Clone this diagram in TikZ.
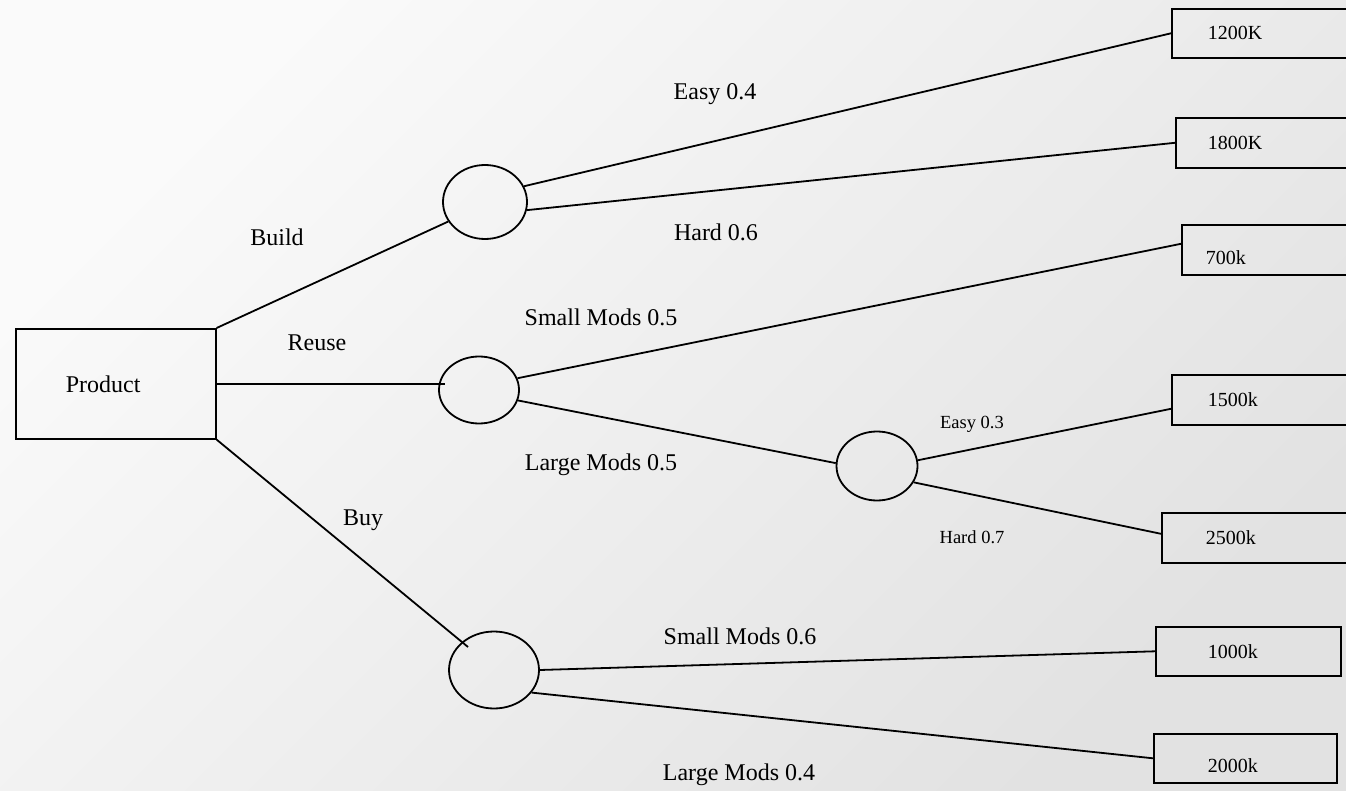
\documentclass[tikz,border=0pt]{standalone}
\usepackage{fontspec}
\setmainfont{Liberation Serif}
\usetikzlibrary{shapes.geometric,calc}
\definecolor{bgA}{HTML}{FAFAFA}
\definecolor{bgB}{HTML}{E2E2E2}
\tikzset{
  chance/.style={ellipse, draw, line width=1.8pt, inner sep=0pt},
  outcome/.style={draw, line width=1.6pt, anchor=north west, align=left,
    inner ysep=0pt, font=\fontsize{20}{22}\selectfont},
  branch/.style={line width=1.8pt},
  lbl/.style={inner sep=0pt, font=\fontsize{24}{26}\selectfont},
  slbl/.style={inner sep=0pt, font=\fontsize{18.5}{20}\selectfont},
}
% lower a box label without changing the box it sits in
\newcommand{\sunk}[2]{\raisebox{-#1}[\height][\depth]{#2}}
\begin{document}
\begin{tikzpicture}[x=1pt,y=-1pt]
\useasboundingbox (0,0) rectangle (1346,791);
\clip (0,0) rectangle (1346,791);
\shade[top color=bgA, bottom color=bgB, shading angle=45] (0,0) rectangle (1346,791);

% decision node
\node[draw, line width=1.6pt, anchor=north west, minimum height=110pt,
      inner xsep=50pt, inner ysep=0pt, text width=100pt, align=left,
      font=\fontsize{24}{26}\selectfont] (product) at (15,328) {Product};

% chance nodes
\node[chance, minimum width=84pt, minimum height=74pt] (c1) at (485,202) {};
\node[chance, minimum width=80pt, minimum height=67pt] (c2) at (479,390) {};
\node[chance, minimum width=81pt, minimum height=69pt] (c3) at (877,466) {};
\node[chance, minimum width=90pt, minimum height=77pt] (c4) at (494,670) {};

% outcomes
\node[outcome, minimum height=49pt, inner xsep=36pt, text width=118pt] (b1200) at (1171,8) {1200K};
\node[outcome, minimum height=50pt, inner xsep=32pt, text width=126pt] (b1800) at (1175,117) {1800K};
\node[outcome, minimum height=50pt, inner xsep=24pt, text width=142pt] (b700) at (1181,224) {\sunk{8pt}{700k}};
\node[outcome, minimum height=50pt, inner xsep=36pt, text width=118pt] (b1500) at (1171,374) {1500k};
\node[outcome, minimum height=50pt, inner xsep=44pt, text width=102pt] (b2500) at (1161,512) {2500k};
\node[outcome, minimum height=49pt, inner xsep=52pt, text width=81pt] (b1000) at (1155,626) {1000k};
\node[outcome, minimum height=49pt, inner xsep=54pt, text width=75pt] (b2000) at (1153,733) {\sunk{7pt}{2000k}};

% branches
\draw[branch] (product.north east) -- (c1.208);
\draw[branch] (product.east) -- ($(product.east -| c2.west)+(7,0)$);
\draw[branch] (product.south east) -- ($(c4.center)+(-26,-23)$);

\draw[branch] (c1.22) -- (b1200.west);
\draw[branch] (c1.-11) -- (b1800.west);

\draw[branch] (c2.17) -- ($(b700.west)+(0,-6)$);
\draw[branch] (c2.-15) -- (c3.176);

\draw[branch] (c3.8) -- ($(b1500.west)+(0,9)$);
\draw[branch] (c3.-24) -- ($(b2500.west)+(0,-4)$);

\draw[branch] (c4.east) -- (b1000.west);
\draw[branch] (c4.-31) -- (b2000.west);

% branch labels
\node[lbl] (lbuild) at (277,237) {Build};
\node[lbl] (lreuse) at (317,343) {Reuse};
\node[lbl] (lbuy) at (363,520) {Buy};
\node[lbl] (leasy1) at (715,94) {Easy 0.4};
\node[lbl] (lhard1) at (716,232) {Hard 0.6};
\node[lbl] (lsmall1) at (601,317) {Small Mods 0.5};
\node[lbl] (llarge1) at (601,465) {Large Mods 0.5};
\node[slbl] (leasy2) at (972,424) {Easy 0.3};
\node[slbl] (lhard2) at (972,537) {Hard 0.7};
\node[lbl] (lsmall2) at (740,636) {Small Mods 0.6};
\node[lbl] (llarge2) at (739,775) {Large Mods 0.4};
\end{tikzpicture}
\end{document}
